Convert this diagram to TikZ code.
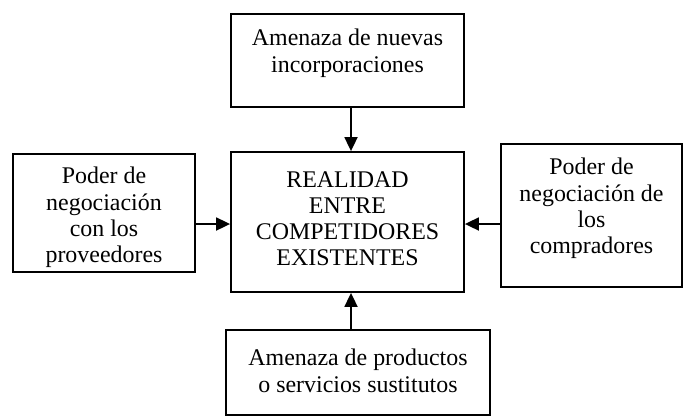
\documentclass[tikz,border=0pt]{standalone}
\usepackage{fontspec}
\setmainfont{Liberation Serif}
\usetikzlibrary{arrows.meta}
\tikzset{
  box/.style={draw=black, line width=1.8bp, inner sep=0pt, fill=white},
  txt/.style={align=center, inner sep=0pt, font=\fontsize{24}{26.3}\selectfont},
  arr/.style={line width=1.8bp, -{Triangle[length=14bp,width=13bp]}}
}
\begin{document}
\begin{tikzpicture}[x=1bp,y=-1bp]
\useasboundingbox (0,0) rectangle (687,417);
% boxes
\node[box, minimum width=233bp, minimum height=93bp]  (top)    at (347.5,60.5)  {};
\node[box, minimum width=233bp, minimum height=140bp] (center) at (347.5,222)   {};
\node[box, minimum width=182bp, minimum height=118bp] (left)   at (104,213)     {};
\node[box, minimum width=181bp, minimum height=143bp] (right)  at (591.5,215.5) {};
\node[box, minimum width=264bp, minimum height=85bp]  (bottom) at (358,372.5)   {};
% texts
\node[txt, anchor=north] (toptxt)    at ([yshift=-16bp]top.north)    {Amenaza de nuevas\\incorporaciones};
\node[txt, anchor=north] (centertxt) at ([yshift=-20bp]center.north) {REALIDAD\\ENTRE\\COMPETIDORES\\EXISTENTES};
\node[txt, anchor=north] (lefttxt)   at ([yshift=-14bp]left.north)   {Poder de\\negociación\\con los\\proveedores};
\node[txt, anchor=north] (righttxt)  at ([yshift=-15bp]right.north)  {Poder de\\negociación de\\los\\compradores};
\node[txt, anchor=north] (bottomtxt) at ([yshift=-20bp]bottom.north) {Amenaza de productos\\o servicios sustitutos};
% connectors
\draw[arr] (top.south -| 351,0) -- (center.north -| 351,0);
\draw[arr] (bottom.north -| 351,0) -- (center.south -| 351,0);
\draw[arr] (left.east |- 0,224) -- (center.west |- 0,224);
\draw[arr] (right.west |- 0,224) -- (center.east |- 0,224);
\end{tikzpicture}
\end{document}
